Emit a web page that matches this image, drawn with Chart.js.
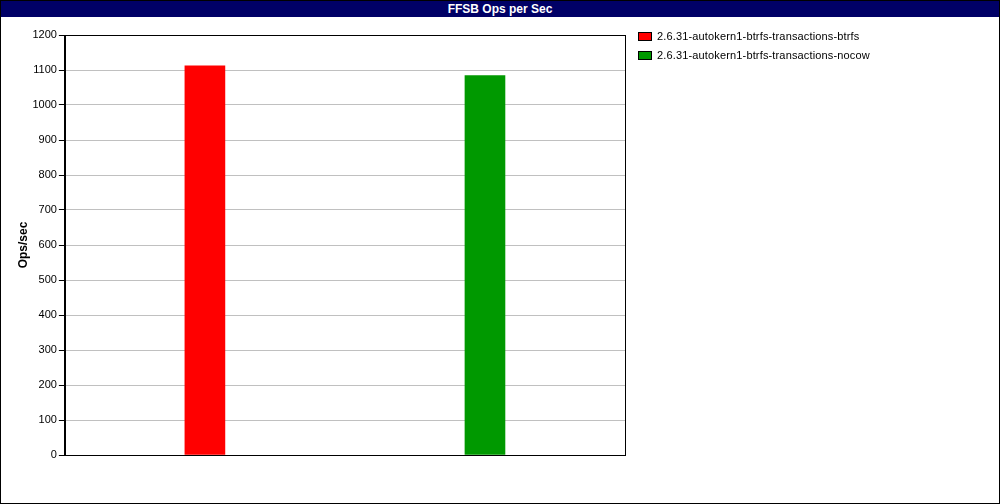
<!DOCTYPE html>
<html>
<head>
<meta charset="utf-8">
<script src="https://cdn.jsdelivr.net/npm/chart.js@4.4.1/dist/chart.umd.min.js"></script>
<style>
  html, body { margin: 0; padding: 0; background: #fff; }
  #wrap { position: relative; width: 998px; height: 502px; border: 1px solid #000; overflow: hidden; }
  #titulo {
    height: 16px; background: #000066; color: #fff; text-align: center;
    font: bold 12px "Liberation Sans", Arial, sans-serif; line-height: 16px;
  }
  #box { position: relative; width: 998px; height: 486px; }
  #legenda {
    position: absolute; left: 637px; top: 29px;
    font: 11px "Liberation Sans", Arial, sans-serif; color: #000;
  }
  #legenda div { height: 19px; line-height: 13px; white-space: nowrap; letter-spacing: 0.15px; }
  #legenda span.caixa {
    display: inline-block; width: 12px; height: 7px; border: 1px solid #000;
    margin-right: 5px; vertical-align: -1px;
  }
</style>
</head>
<body>
<div id="wrap">
  <div id="titulo">FFSB Ops per Sec</div>
  <div id="box"><canvas id="grafico"></canvas></div>
  <div id="legenda"></div>
</div>
<script>
// dados do grafico
const categorias = ["", ""];
const series = [
  "2.6.31-autokern1-btrfs-transactions-btrfs",
  "2.6.31-autokern1-btrfs-transactions-nocow",
];
const valores = [1112, 1084];
const cores = ["#ff0000", "#009900"];
const yTicks = [0, 100, 200, 300, 400, 500, 600, 700, 800, 900, 1000, 1100, 1200];

// moldura em volta da area do grafico
const moldura = {
  id: "moldura",
  afterDraw(chart) {
    const { ctx, chartArea: a } = chart;
    ctx.save();
    ctx.strokeStyle = "#000";
    ctx.lineWidth = 1;
    ctx.strokeRect(Math.round(a.left) + 0.5, Math.round(a.top) + 0.5,
      Math.round(a.right - a.left), Math.round(a.bottom - a.top));
    ctx.restore();
  },
};

const fonte = "'Liberation Sans', Arial, sans-serif";

const grafico = new Chart(document.getElementById("grafico"), {
  type: "bar",
  data: {
    labels: categorias,
    datasets: series.map((nome, i) => ({
      label: nome,
      data: categorias.map((_, j) => (j === i ? valores[i] : null)),
      backgroundColor: cores[i],
      borderWidth: 0,
      barThickness: 40,
      grouped: false,
    })),
  },
  options: {
    responsive: true,
    maintainAspectRatio: false,
    animation: false,
    layout: { padding: { left: 0, right: 374, top: 18, bottom: 40 } },
    plugins: {
      tooltip: { enabled: false },
      legend: { display: false },
    },
    scales: {
      x: {
        ticks: { display: false },
        grid: { display: false },
        border: { color: "#000" },
      },
      y: {
        min: 0,
        max: 1200,
        afterBuildTicks(axis) {
          axis.ticks = yTicks.map((v) => ({ value: v }));
        },
        ticks: {
          font: { family: fonte, size: 11 },
          color: "#000",
          padding: 2,
          callback: (v) => String(v),
        },
        grid: { color: "#c0c0c0", tickColor: "#000", tickLength: 6 },
        border: { color: "#000" },
        title: {
          display: true,
          text: "Ops/sec",
          font: { family: fonte, size: 12, weight: "bold" },
          color: "#000",
          padding: { top: 15, bottom: 0 },
        },
      },
    },
  },
  plugins: [moldura],
});

// legenda em html, montada a partir dos datasets
document.getElementById("legenda").innerHTML = grafico.data.datasets
  .map((ds) => `<div><span class="caixa" style="background:${ds.backgroundColor}"></span>${ds.label}</div>`)
  .join("");
</script>
</body>
</html>
